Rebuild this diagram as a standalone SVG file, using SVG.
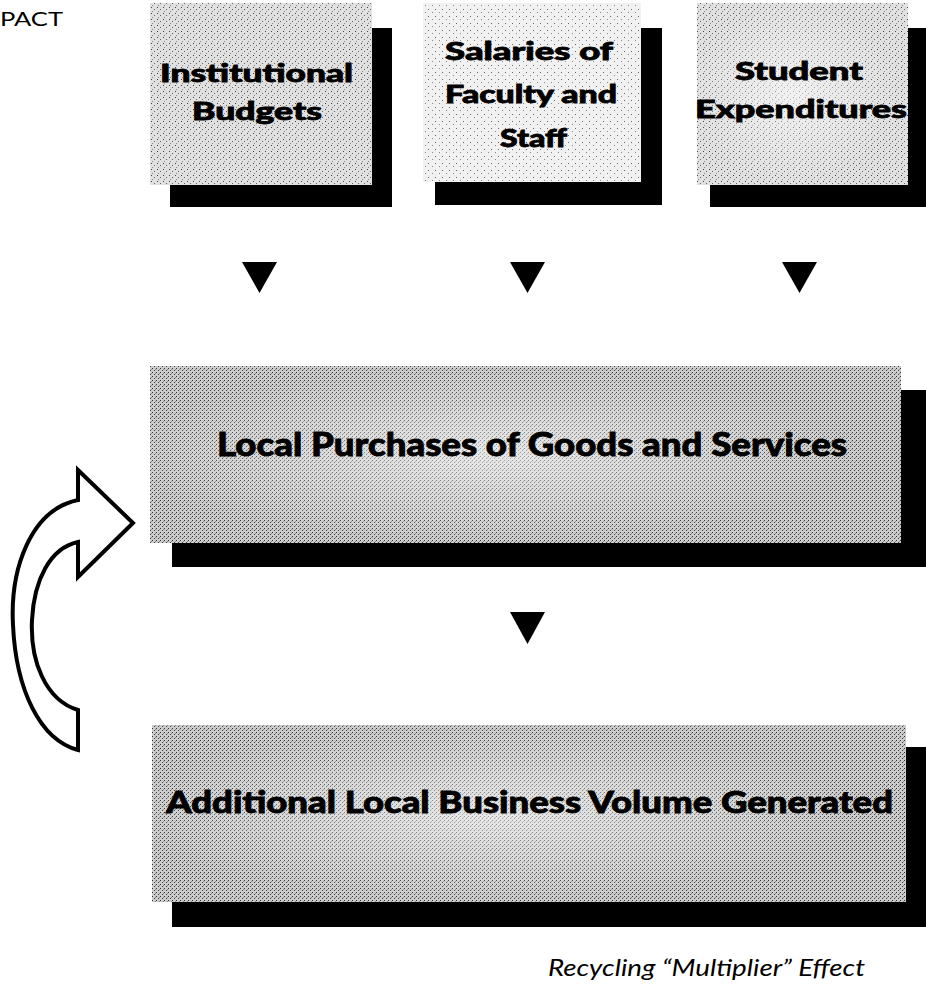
<svg xmlns="http://www.w3.org/2000/svg" width="926" height="988" viewBox="0 0 926 988">
  <defs>
    <style>
      .shadow { fill: #000; }
      .lbl { font-family: Lato, "Open Sans", "Liberation Sans", sans-serif; font-weight: 900; fill: #000; stroke: #000; stroke-width: 0.8; }
      .head { font-family: Lato, "Open Sans", "Liberation Sans", sans-serif; font-weight: 400; fill: #000; }
      .cap { font-family: Lato, "Open Sans", "Liberation Sans", sans-serif; font-style: italic; fill: #000; }
      .tri { fill: #000; }
      .loop { fill: #fff; stroke: #000; stroke-width: 4; stroke-linejoin: miter; }
    </style>
    <!-- stippled grey surfaces of the boxes -->
    <pattern id="speckleLight" width="7" height="7" patternUnits="userSpaceOnUse">
      <rect width="7" height="7" fill="#f1f1f1"/>
      <rect x="1" y="2" width="1" height="1" fill="#666"/>
      <rect x="5" y="5" width="1" height="1" fill="#888"/>
    </pattern>
    <pattern id="speckle" width="6" height="6" patternUnits="userSpaceOnUse">
      <rect width="6" height="6" fill="#e0e0e0"/>
      <rect x="1" y="1" width="1" height="1" fill="#444"/>
      <rect x="4" y="3" width="1" height="1" fill="#666"/>
      <rect x="2" y="5" width="1" height="1" fill="#888"/>
    </pattern>
    <pattern id="speckleDense" width="4" height="4" patternUnits="userSpaceOnUse">
      <rect width="4" height="4" fill="#cbcbcb"/>
      <rect x="0" y="0" width="1" height="1" fill="#333"/>
      <rect x="2" y="2" width="1" height="1" fill="#444"/>
      <rect x="3" y="1" width="1" height="1" fill="#888"/>
    </pattern>
    <!-- lighter middle of the wide boxes -->
    <radialGradient id="glow" cx="0.45" cy="0.5" r="0.5">
      <stop offset="0" stop-color="#fff" stop-opacity="0.55"/>
      <stop offset="1" stop-color="#fff" stop-opacity="0"/>
    </radialGradient>
  </defs>

  <rect width="926" height="988" fill="#fff"/>

  <text class="head" x="0" y="26" font-size="20" textLength="63" lengthAdjust="spacingAndGlyphs">PACT</text>

  <g id="institutional-budgets">
    <rect class="shadow" x="372" y="28" width="20" height="179"/>
    <rect class="shadow" x="170" y="185" width="222" height="22"/>
    <rect x="150" y="3" width="222" height="182" fill="url(#speckle)"/>
    <text class="lbl" x="160" y="82" font-size="25" textLength="193" lengthAdjust="spacingAndGlyphs">Institutional</text>
    <text class="lbl" x="192" y="120" font-size="25" textLength="130" lengthAdjust="spacingAndGlyphs">Budgets</text>
  </g>

  <g id="salaries">
    <rect class="shadow" x="641" y="28" width="21" height="177"/>
    <rect class="shadow" x="435" y="182" width="227" height="23"/>
    <rect x="423" y="3" width="218" height="179" fill="url(#speckleLight)"/>
    <text class="lbl" x="445" y="60" font-size="25" textLength="168" lengthAdjust="spacingAndGlyphs">Salaries of</text>
    <text class="lbl" x="445" y="103" font-size="25" textLength="172" lengthAdjust="spacingAndGlyphs">Faculty and</text>
    <text class="lbl" x="500" y="147" font-size="25" textLength="67" lengthAdjust="spacingAndGlyphs">Staff</text>
  </g>

  <g id="student-expenditures">
    <rect class="shadow" x="908" y="28" width="18" height="179"/>
    <rect class="shadow" x="710" y="185" width="216" height="22"/>
    <rect x="697" y="3" width="211" height="182" fill="url(#speckle)"/>
    <rect x="697" y="3" width="211" height="182" fill="url(#glow)"/>
    <text class="lbl" x="735" y="80" font-size="25" textLength="128" lengthAdjust="spacingAndGlyphs">Student</text>
    <text class="lbl" x="695" y="118" font-size="25" textLength="212" lengthAdjust="spacingAndGlyphs">Expenditures</text>
  </g>

  <g id="local-purchases">
    <rect class="shadow" x="901" y="390" width="25" height="177"/>
    <rect class="shadow" x="172" y="543" width="754" height="24"/>
    <rect x="150" y="366" width="751" height="177" fill="url(#speckleDense)"/>
    <rect x="150" y="366" width="751" height="177" fill="url(#glow)"/>
    <text class="lbl" x="217" y="456" font-size="32" textLength="630" lengthAdjust="spacingAndGlyphs">Local Purchases of Goods and Services</text>
  </g>

  <g id="additional-volume">
    <rect class="shadow" x="906" y="747" width="20" height="180"/>
    <rect class="shadow" x="172" y="902" width="754" height="25"/>
    <rect x="152" y="725" width="754" height="177" fill="url(#speckleDense)"/>
    <rect x="152" y="725" width="754" height="177" fill="url(#glow)"/>
    <text class="lbl" x="166" y="813" font-size="30" textLength="727" lengthAdjust="spacingAndGlyphs">Additional Local Business Volume Generated</text>
  </g>

  <g id="connectors">
    <polygon class="tri" points="242,262 277,262 259.5,293"/>
    <polygon class="tri" points="510,262 545,262 527.5,293"/>
    <polygon class="tri" points="782,262 817,262 799.5,293"/>
    <polygon class="tri" points="510,612 545,612 527.5,644"/>
    <!-- recycling loop from the lower box back into the purchases box -->
    <path class="loop" d="M78,470 L133,523 L78,577 L78,542 C50,548 34,580 32,620 C30,660 45,700 78,710 L78,750 C40,740 16,690 13,625 C10,570 30,510 78,500 Z"/>
  </g>

  <text class="cap" x="548" y="976" font-size="23" textLength="317" lengthAdjust="spacingAndGlyphs">Recycling “Multiplier” Effect</text>
</svg>
